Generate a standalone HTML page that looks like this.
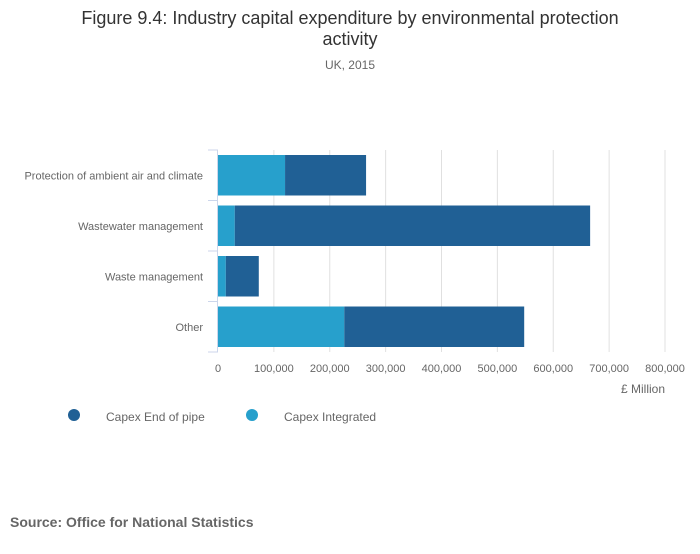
<!DOCTYPE html>
<html><head><meta charset="utf-8"><style>
body{margin:0;background:#fff;width:700px;height:549px;overflow:hidden;font-family:"Liberation Sans",sans-serif}
</style></head><body>
<svg width="700" height="549" font-family="Liberation Sans, sans-serif">
<text x="350" y="24" text-anchor="middle" font-size="18" fill="#333">Figure 9.4: Industry capital expenditure by environmental protection</text>
<text x="350" y="45" text-anchor="middle" font-size="18" fill="#333">activity</text>
<text x="350" y="69" text-anchor="middle" font-size="12" fill="#666">UK, 2015</text>
<g id="grid"></g><g id="bars"></g><g id="axes"></g>
<text x="665" y="393" text-anchor="end" font-size="12" fill="#666">£ Million</text>
<g>
<circle cx="74" cy="415" r="6" fill="#206095"/>
<text x="106" y="421" font-size="12" fill="#666">Capex End of pipe</text>
<circle cx="252" cy="415" r="6" fill="#27a0cc"/>
<text x="284" y="421" font-size="12" fill="#666">Capex Integrated</text>
</g>
<text x="10" y="527" font-size="14" font-weight="bold" fill="#666">Source: Office for National Statistics</text>
</svg>
<script>
const categories=["Protection of ambient air and climate","Wastewater management","Waste management","Other"];
const integrated=[120000,30000,14000,226000];
const endOfPipe=[145000,636000,59000,322000];
const ticks=[0,100000,200000,300000,400000,500000,600000,700000,800000];
const NS="http://www.w3.org/2000/svg";
const x0=218,x1=665,maxV=800000,yTop=150,yBot=352;
const band=(yBot-yTop)/categories.length;
const X=v=>x0+v/maxV*(x1-x0);
function mk(t,a,p){const e=document.createElementNS(NS,t);for(const k in a)e.setAttribute(k,a[k]);p.appendChild(e);return e;}
const grid=document.getElementById('grid'),bars=document.getElementById('bars'),axes=document.getElementById('axes');
ticks.forEach(t=>{
 if(t>0){const l=mk('line',{x1:X(t),x2:X(t),y1:yTop,y2:yBot,stroke:'#e0e0e0'},grid);
 
 }
 const tx=mk('text',{x:X(t),y:372,'text-anchor':'middle','font-size':11,fill:'#666'},axes);
 tx.textContent=t.toLocaleString('en-GB');
 
 
});
const ax=mk('line',{x1:x0-0.5,x2:x0-0.5,y1:yTop,y2:yBot,stroke:'#ccd6eb'},axes);


for(let i=0;i<=categories.length;i++){
 const tk=mk('line',{x1:x0-10,x2:x0,y1:yTop+i*band,y2:yTop+i*band,stroke:'#ccd6eb'},axes);
 
 
}
categories.forEach((c,i)=>{
 const y=yTop+i*band+5,h=band-10;
 const b1=mk('rect',{x:X(0),y:y,width:X(integrated[i])-X(0),height:h,fill:'#27a0cc'},bars);
 
 
 const b2=mk('rect',{x:X(integrated[i]),y:y,width:X(integrated[i]+endOfPipe[i])-X(integrated[i]),height:h,fill:'#206095'},bars);
 
 
 const t=mk('text',{x:203,y:yTop+i*band+band/2+4,'text-anchor':'end','font-size':11,fill:'#666'},axes);
 t.textContent=c;
 
 
});
</script>
</body></html>
